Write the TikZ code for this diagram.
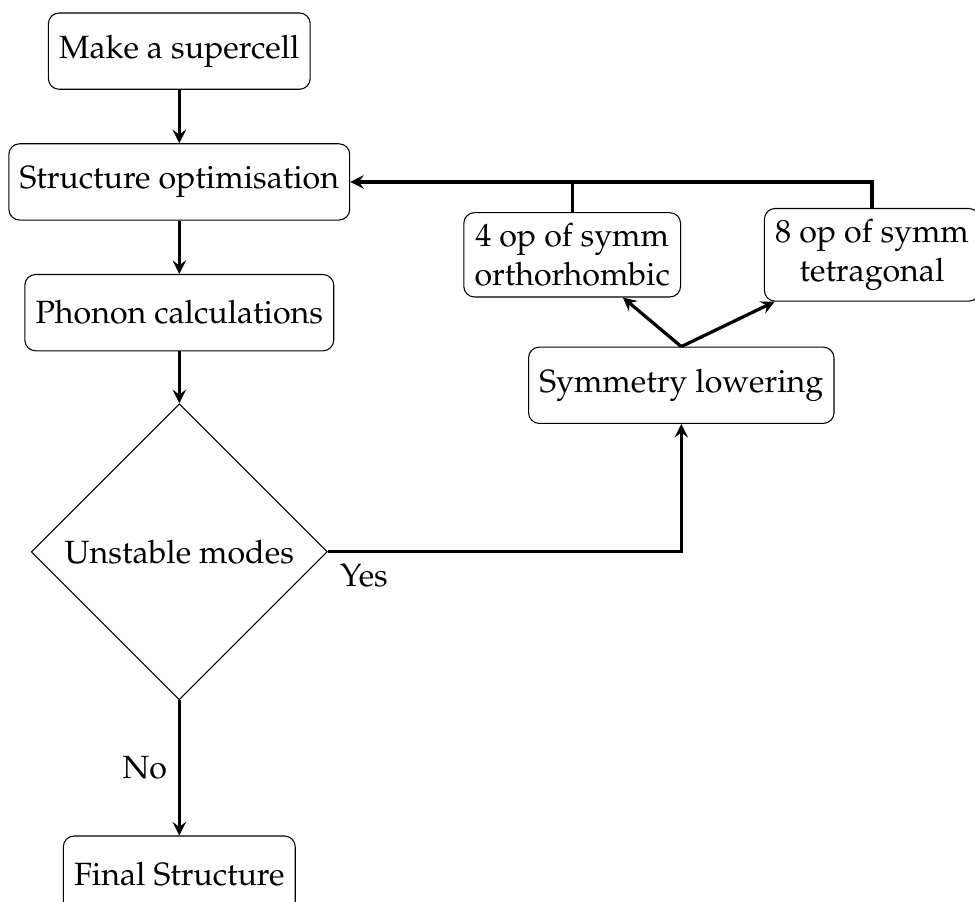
\documentclass[tikz,border=0pt,12pt]{standalone}
\usepackage[T1]{fontenc}
\usepackage{mathpazo}
\usetikzlibrary{shapes,arrows,positioning}
\tikzset{
  process/.style={
    shape=rectangle,
    rounded corners,
    minimum width=3cm,
    minimum height=1cm,
    text centered,
    draw=black
  },
  symmbox/.style={
    shape=rectangle,
    rounded corners,
    align=center,
    draw=black
  },
  decision/.style={
    shape=diamond,
    minimum width=3cm,
    minimum height=1cm,
    text centered,
    draw=black
  },
  arrow/.style={
    very thick,
    ->,
    >=stealth
  }
}

\begin{document}
\begin{tikzpicture}
    \useasboundingbox (0,0) rectangle (12.78,-11.82);
    \node [process] (supercell) at (2.35,-0.67) {Make a supercell};
    \node [process, below=0.7cm of supercell] (optim) {Structure optimisation};
    \node [process, below=0.7cm of optim] (phonon) {Phonon calculations};
    \node [decision, below=0.68cm of phonon] (unstable) {Unstable modes};
    \node [process, below=1.77cm of unstable] (final) {Final Structure};
    \node [process] (lowering) at (8.93,-5.05) {Symmetry lowering};
    \node [symmbox] (ortho) at (7.50,-3.34) {4 op of symm\\orthorhombic};
    \node [symmbox] (tetra) at (11.43,-3.34) {8 op of symm\\tetragonal};

    \draw [arrow] (supercell) -- (optim);
    \draw [arrow] (optim) -- (phonon);
    \draw [arrow] (phonon) -- (unstable);
    \draw [arrow] (unstable) -- node [left] (no) {No} (final);
    \draw [arrow] (unstable.east) node [below right] (yes) {Yes} -| (lowering.south);
    \draw [arrow] (lowering.north) -- (ortho);
    \draw [arrow] (lowering.north) -- (tetra);
    \draw [arrow] (tetra.north) |- (optim.east);
    \draw [very thick] (ortho.north) -- (ortho.north |- optim.east);
\end{tikzpicture}
\end{document}
